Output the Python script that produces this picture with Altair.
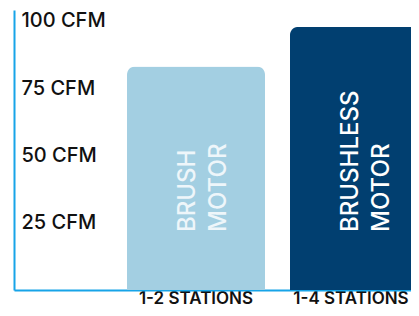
import altair as alt
import pandas as pd

stations = ["1-2 STATIONS", "1-4 STATIONS"]
motors = ["BRUSH\nMOTOR", "BRUSHLESS\nMOTOR"]
cfm = [83.0, 97.7]
y_ticks = [25, 50, 75, 100]

df = pd.DataFrame({"station": stations, "motor": motors, "cfm": cfm})

AXIS = "#17a4e8"
FONT = "Inter"

x = alt.X(
    "station:N",
    sort=stations,
    scale=alt.Scale(domain=stations, range=[0, 527], paddingInner=0.1534, paddingOuter=0.6933),
    axis=alt.Axis(
        title=None, ticks=False, domainColor=AXIS, domainWidth=2,
        labelFont=FONT, labelFontSize=17, labelFontWeight=600, labelColor="#111111",
        labelPadding=0, labelAngle=0,
        labelOffset={"condition": {"test": "datum.value === '1-4 STATIONS'", "value": -8}, "value": 0},
    ),
)

y_scale = alt.Scale(domain=[0, 104], nice=False)

bars = alt.Chart(df).mark_bar(
    cornerRadiusTopLeft=8, cornerRadiusTopRight=8
).encode(
    x=x,
    y=alt.Y(
        "cfm:Q", scale=y_scale,
        axis=alt.Axis(
            title=None, values=y_ticks, ticks=False, grid=False,
            domainColor=AXIS, domainWidth=2,
            labelAlign="left", labelPadding=-7, labelBaseline="middle",
            labelFont=FONT, labelFontSize=20, labelFontWeight=500, labelColor="#111111",
            labelExpr="datum.value + ' CFM'",
        ),
    ),
    color=alt.Color("station:N", scale=alt.Scale(domain=stations, range=["#a3cfe2", "#013f70"]), legend=None),
)

labels = alt.Chart(df).mark_text(
    angle=270, align="left", baseline="middle", lineBreak="\n", lineHeight=31,
    font=FONT, fontSize=24, fontWeight=500, dx=58, dy=-8,
).encode(
    x=alt.X("station:N", sort=stations),
    y=alt.datum(0),
    text="motor:N",
    color=alt.Color("station:N", scale=alt.Scale(domain=stations, range=["#eef6fa", "#ffffff"]), legend=None),
)

chart = alt.layer(bars, labels).resolve_scale(color="independent").properties(
    width=397, height=280,
    autosize=alt.AutoSizeParams(type="none"),
    padding={"left": 6, "top": 2, "right": 0, "bottom": 18},
    background="white",
).configure_view(stroke=None)

chart.save("out.html", embed_options={"renderer": "svg", "actions": False})
